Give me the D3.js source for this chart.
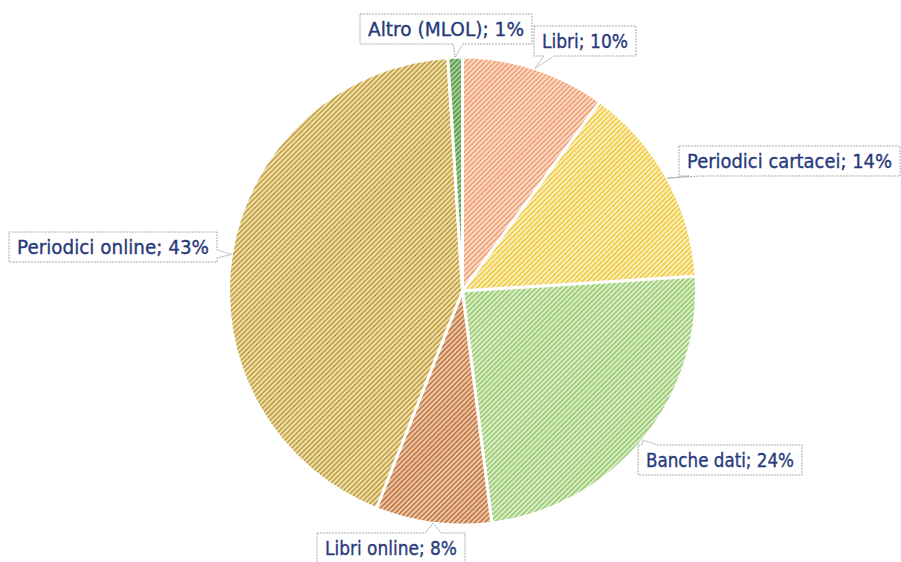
<!DOCTYPE html>
<html>
<head>
<meta charset="utf-8">
<script src="https://cdn.jsdelivr.net/npm/d3@7"></script>
<style>
  body { margin: 0; background: #fff; }
  .label text { font-family: "DejaVu Sans", sans-serif; font-size: 19.5px; fill: #283a7c; stroke: #283a7c; stroke-width: 0.35px; }
</style>
</head>
<body>
<div class="pieContainer"></div>
<script>
// data (percent, clockwise from 12 o'clock)
const categories = ['Libri', 'Periodici cartacei', 'Banche dati', 'Libri online', 'Periodici online', 'Altro (MLOL)'];
const values = [10, 14, 24, 8, 43, 1];

// colours: background and hatch stripe for each slice
const fillColors   = ['#fcdcc8', '#fdefc0', '#dcefc8', '#f4c8a0', '#f4e2a4', '#a8d098'];
const stripeColors = ['#f0a27a', '#f0cd48', '#9ccc78', '#bc7c52', '#bea050', '#5a9a4c'];

// callout boxes (top-left corner and width), same order as categories
const labelBoxes = [
  { x: 534, y: 26, w: 102 },
  { x: 679, y: 146, w: 221 },
  { x: 638, y: 445, w: 164 },
  { x: 317, y: 533, w: 148 },
  { x: 9, y: 232, w: 208 },
  { x: 360, y: 14, w: 172 }
];

window.addEventListener("load", () => {
  drawPie();
});

function drawPie() {
  const width = 901, height = 562;
  const cx = 462.5, cy = 291, radius = 234;
  const boxH = 30;

  const svg = d3.select(".pieContainer")
    .append("svg")
    .attr("width", width)
    .attr("height", height);

  // hatch patterns
  const defs = svg.append("defs");
  categories.forEach((c, i) => {
    const p = defs.append("pattern")
      .attr("id", "hatch" + i)
      .attr("patternUnits", "userSpaceOnUse")
      .attr("width", 3.5)
      .attr("height", 3.5)
      .attr("patternTransform", "rotate(45)");
    p.append("rect")
      .attr("width", 3.5)
      .attr("height", 3.5)
      .attr("fill", fillColors[i]);
    p.append("line")
      .attr("x1", 0.9).attr("y1", 0)
      .attr("x2", 0.9).attr("y2", 3.5)
      .attr("stroke", stripeColors[i])
      .attr("stroke-width", 1.7);
  });

  const pie = d3.pie().sort(null).value(d => d.value);
  const arc = d3.arc().innerRadius(0).outerRadius(radius);
  const edge = d3.arc().innerRadius(radius).outerRadius(radius);

  const data = categories.map((c, i) => ({ name: c, value: values[i], idx: i }));
  const arcs = pie(data);

  const g = svg.append("g")
    .attr("transform", "translate(" + cx + "," + cy + ")");

  g.selectAll("path.slice")
    .data(arcs)
    .enter()
    .append("path")
    .attr("class", "slice")
    .attr("d", arc)
    .attr("fill", d => "url(#hatch" + d.data.idx + ")")
    .attr("stroke", "#fff")
    .attr("stroke-width", 3);

  // callout labels
  const labels = svg.append("g").attr("class", "label");
  arcs.forEach(d => {
    const i = d.data.idx;
    const b = labelBoxes[i];
    const t = edge.centroid(d);
    const tip = [cx + t[0], cy + t[1]];

    labels.append("path")
      .attr("d", calloutPath(b.x, b.y, b.w, boxH, tip))
      .attr("fill", "#fff")
      .attr("stroke", "#a9a9a9")
      .attr("stroke-width", 1)
      .attr("stroke-dasharray", "2,1");

    labels.append("text")
      .attr("x", b.x + 8)
      .attr("y", b.y + 22)
      .attr("textLength", b.w - 16)
      .attr("lengthAdjust", "spacingAndGlyphs")
      .text(d.data.name + "; " + d.data.value + "%");
  });
}

// box with a small wedge pointing at tip
function calloutPath(x, y, w, h, tip) {
  const [tx, ty] = tip;
  const x2 = x + w, y2 = y + h;
  const clamp = (v, a, b) => Math.max(a, Math.min(b, v));
  const wedge = 8;
  let pts;
  if (ty > y2) {
    // below
    const bx = clamp(tx, x + wedge + 4, x2 - wedge - 4);
    pts = [[x, y], [x2, y], [x2, y2], [bx + wedge, y2], [tx, ty], [bx - wedge + 6, y2], [x, y2]];
  } else if (ty < y) {
    // above
    const bx = clamp(tx, x + wedge + 4, x2 - wedge - 4);
    pts = [[x, y], [bx - wedge, y], [tx, ty], [bx + wedge, y], [x2, y], [x2, y2], [x, y2]];
  } else if (tx > x2) {
    // right
    const by = clamp(ty, y + wedge, y2 - wedge);
    pts = [[x, y], [x2, y], [x2, by - wedge / 2], [tx, ty], [x2, by + wedge / 2], [x2, y2], [x, y2]];
  } else {
    // left
    const by = clamp(ty, y + wedge, y2 - wedge);
    pts = [[x, y], [x2, y], [x2, y2], [x, y2], [x, by + wedge / 2], [tx, ty], [x, by - wedge / 2]];
  }
  return "M" + pts.map(p => p.join(",")).join("L") + "Z";
}
</script>
</body>
</html>
